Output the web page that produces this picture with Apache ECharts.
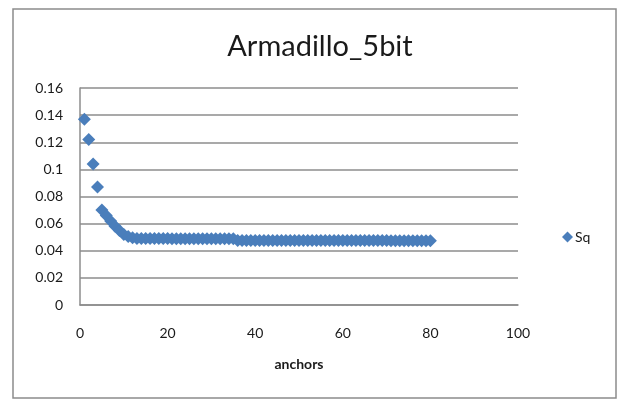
<!DOCTYPE html>
<html>
<head>
<meta charset="utf-8">
<script src="https://cdn.jsdelivr.net/npm/echarts@6/dist/echarts.min.js"></script>
<style>html,body{margin:0;padding:0;background:#fff;}#c{width:618px;height:399px;}</style>
</head>
<body>
<div id="c"></div>
<script>
var titleText = 'Armadillo_5bit';
var seriesName = 'Sq';
var xName = 'anchors';
var anchors = [1,2,3,4,5,6,7,8,9,10,11,12,13,14,15,16,17,18,19,20,
  21,22,23,24,25,26,27,28,29,30,31,32,33,34,35,36,37,38,39,40,
  41,42,43,44,45,46,47,48,49,50,51,52,53,54,55,56,57,58,59,60,
  61,62,63,64,65,66,67,68,69,70,71,72,73,74,75,76,77,78,79,80];
var sqValues = [0.137,0.122,0.104,0.087,0.070,0.066,0.062,0.058,0.055,0.052,
  0.0505,0.0495,0.049,0.049,0.049,0.049,0.049,0.049,0.049,0.049,
  0.0488,0.0488,0.0488,0.0488,0.0488,0.0488,0.0488,0.0488,0.0488,0.0488,
  0.0488,0.0488,0.0488,0.0488,0.0488,0.0476,0.0476,0.0476,0.0476,0.0476,
  0.0476,0.0476,0.0476,0.0476,0.0476,0.0476,0.0476,0.0476,0.0476,0.0476,
  0.0475,0.0475,0.0475,0.0475,0.0475,0.0475,0.0475,0.0475,0.0475,0.0475,
  0.0475,0.0475,0.0475,0.0475,0.0475,0.0475,0.0475,0.0475,0.0475,0.0475,
  0.0474,0.0474,0.0474,0.0474,0.0474,0.0474,0.0474,0.0474,0.0474,0.0474];
var xTicks = [0,20,40,60,80,100];
var yTicks = [0,0.02,0.04,0.06,0.08,0.1,0.12,0.14,0.16];

var data = anchors.map(function(a,i){ return [a, sqValues[i]]; });
var font = 'Lato, "Open Sans", sans-serif';
var chart = echarts.init(document.getElementById('c'));
chart.setOption({
  animation: false,
  backgroundColor: '#fff',
  graphic: [{
    type: 'rect',
    shape: { x: 13, y: 9, width: 603, height: 389 },
    style: { fill: 'none', stroke: '#8c8c8c', lineWidth: 1.5 },
    silent: true, z: -1
  }],
  title: {
    text: titleText,
    left: 315, textAlign: 'center',
    top: 27,
    textStyle: { fontFamily: font, fontSize: 29, fontWeight: 'normal', color: '#1a1a1a' }
  },
  legend: {
    left: 557, top: 225,
    itemWidth: 11, itemHeight: 11,
    itemGap: 4,
    data: [{ name: seriesName, icon: 'diamond' }],
    textStyle: { fontFamily: font, fontSize: 14, color: '#1a1a1a', padding: [0,0,0,-3] }
  },
  grid: { left: 80, right: 100, top: 88, bottom: 94, containLabel: false },
  xAxis: {
    type: 'value', min: xTicks[0], max: xTicks[xTicks.length-1], interval: 20,
    name: xName, nameLocation: 'middle', nameGap: 52,
    nameTextStyle: { fontFamily: font, fontSize: 14, fontWeight: 'bold', color: '#1a1a1a' },
    axisLine: { show: true, lineStyle: { color: '#8c8c8c', width: 1.5 } },
    axisTick: { show: false },
    splitLine: { show: false },
    axisLabel: { fontFamily: font, fontSize: 14, color: '#1a1a1a', margin: 21 }
  },
  yAxis: {
    type: 'value', min: yTicks[0], max: yTicks[yTicks.length-1], interval: 0.02,
    axisLine: { show: true, lineStyle: { color: '#8c8c8c', width: 1.5 } },
    axisTick: { show: false },
    splitLine: { show: true, lineStyle: { color: '#8c8c8c', width: 1.5 } },
    axisLabel: { fontFamily: font, fontSize: 14, color: '#1a1a1a', margin: 17,
      formatter: function(v){ return String(Math.round(v*100)/100); } }
  },
  series: [{
    name: seriesName,
    type: 'scatter',
    symbol: 'diamond',
    symbolSize: 13,
    itemStyle: { color: '#4a7ebb', opacity: 1 },
    data: data
  }]
});
</script>
</body>
</html>
